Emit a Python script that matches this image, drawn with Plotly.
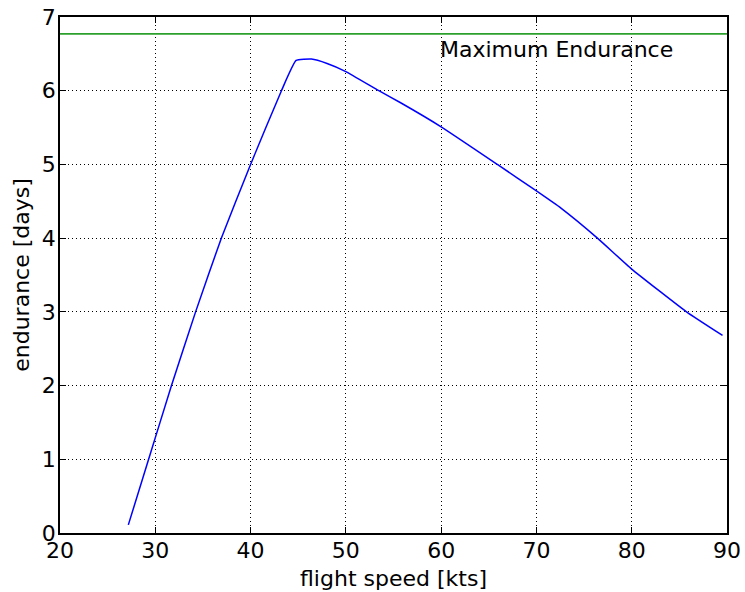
import plotly.graph_objects as go

speed = [27.17, 29.3, 31.7, 34.23, 36.93, 40.0, 43.24, 44.78,
         46.39, 48.03, 50.0, 53.46, 55.7, 60.0, 65.9, 70.0, 72.54,
         76.4, 80.0, 85.75, 89.53]
endurance = [0.11, 1.0, 2.0, 3.0, 4.0, 5.0, 6.0, 6.41,
             6.43, 6.37, 6.26, 6.0, 5.84, 5.51, 5.0, 4.64, 4.41,
             4.0, 3.58, 3.0, 2.68]
max_endurance = 6.77

FONT = "DejaVu Sans"
FS = 22

fig = go.Figure()
fig.add_trace(go.Scatter(x=speed, y=endurance, mode="lines",
                         line=dict(color="#0000ff", width=1.5, shape="spline", smoothing=0.4),
                         showlegend=False))
fig.add_trace(go.Scatter(x=[20, 90], y=[max_endurance, max_endurance], mode="lines",
                         line=dict(color="#2ca02c", width=1.8), showlegend=False))
fig.add_annotation(x=60, y=max_endurance, text="Maximum Endurance", showarrow=False,
                   xanchor="left", yanchor="top", xshift=-3, yshift=-1,
                   font=dict(family=FONT, size=FS, color="black"))

axis_common = dict(showline=True, linecolor="black", linewidth=1.5, mirror="ticks",
                   ticks="inside", ticklen=6, tickcolor="black", tickwidth=1,
                   showgrid=True, gridcolor="black", gridwidth=1, griddash="1px,3px",
                   zeroline=False, automargin=False, ticklabeloverflow="allow",
                   tickfont=dict(family=FONT, size=FS, color="black"))

fig.update_xaxes(range=[20, 90], dtick=10, ticklabelstandoff=-3,
                 title=dict(text="flight speed [kts]", standoff=8,
                            font=dict(family=FONT, size=FS, color="black")), **axis_common)
fig.update_yaxes(range=[0, 7], dtick=1, ticklabelstandoff=-2,
                 title=dict(text="endurance [days]", standoff=6,
                            font=dict(family=FONT, size=FS, color="black")), **axis_common)

fig.update_layout(width=745, height=592, margin=dict(l=60, r=18, t=17, b=59),
                  plot_bgcolor="white", paper_bgcolor="white",
                  font=dict(family=FONT, color="black"))

# remove the default 8px page margin so the figure fills the window exactly
fig.write_html("out.html", config={"displayModeBar": False},
               post_script="document.body.style.margin='0';")
